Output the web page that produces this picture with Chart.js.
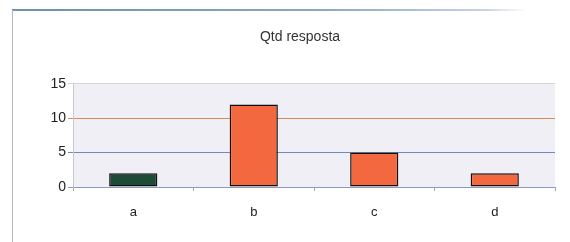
<!DOCTYPE html>
<html>
<head>
<meta charset="utf-8">
<script src="https://cdn.jsdelivr.net/npm/chart.js@4/dist/chart.umd.min.js"></script>
<style>
  html, body { margin: 0; padding: 0; background: #fff; }
  #wrap { position: relative; width: 570px; height: 242px; overflow: hidden; }
  #topline { position: absolute; left: 12px; top: 9px; width: 515px; height: 2px;
    background: linear-gradient(to right, #6f8fae, #8aa6c8 60%, #c9d3e0 92%, #fff); }
  #leftline { position: absolute; left: 12px; top: 10px; width: 1px; height: 232px; background: #b8b8b8; }
  canvas { position: absolute; left: 0; top: 0; }
</style>
</head>
<body>
<div id="wrap">
  <canvas id="chart" width="570" height="242"></canvas>
  <div id="topline"></div>
  <div id="leftline"></div>
</div>
<script>
const categories = ['a', 'b', 'c', 'd'];
const respostas = [2, 12, 5, 2];
const yTicks = [0, 5, 10, 15];

const barColors = ['#1e4b36', '#f4683f', '#f4683f', '#f4683f'];
const gridColors = ['#8a9bbd', '#6f8cb8', '#d98a5a', '#d4d4dc']; // for 0, 5, 10, 15

const plotBg = {
    id: 'plotBg',
    beforeDraw(chart) {
        const a = chart.chartArea;
        const c = chart.ctx;
        c.save();
        c.fillStyle = '#efeff5';
        c.fillRect(a.left, a.top, a.right - a.left, a.bottom - a.top);
        c.restore();
    }
};

const ctx = document.getElementById('chart').getContext('2d');
new Chart(ctx, {
    type: 'bar',
    data: {
        labels: categories,
        datasets: [{
            label: 'Qtd resposta',
            data: respostas,
            backgroundColor: barColors,
            borderColor: '#111',
            borderWidth: 1.5,
            borderSkipped: false,
            categoryPercentage: 1,
            barPercentage: 0.4
        }]
    },
    options: {
        responsive: false,
        animation: false,
        layout: { padding: { left: 45, right: 15, top: 0, bottom: 0 } },
        plugins: {
            legend: { display: false },
            tooltip: { enabled: false },
            title: {
                display: true,
                text: 'Qtd resposta',
                color: '#333',
                font: { family: 'Liberation Sans', size: 14, weight: 'normal' },
                padding: { top: 29, bottom: 38 }
            }
        },
        scales: {
            x: {
                grid: { display: true, drawOnChartArea: false, tickLength: 4, color: '#9aa', offset: true },
                border: { color: '#8a9bbd' },
                ticks: { color: '#222', font: { family: 'Liberation Sans', size: 13 }, padding: 14 },
                afterFit(scale) { scale.height = 55; }
            },
            y: {
                min: 0,
                max: 15,
                afterBuildTicks(scale) { scale.ticks = yTicks.map(v => ({ value: v })); },
                grid: {
                    color: c => gridColors[yTicks.indexOf(c.tick ? c.tick.value : -1)] || '#d4d4dc',
                    tickLength: 5,
                    lineWidth: 1
                },
                border: { color: '#c8c8d0' },
                ticks: { color: '#222', font: { family: 'Liberation Sans', size: 14 }, padding: 2 },
                afterFit(scale) { scale.width = 28; }
            }
        }
    },
    plugins: [plotBg]
});
</script>
</body>
</html>
